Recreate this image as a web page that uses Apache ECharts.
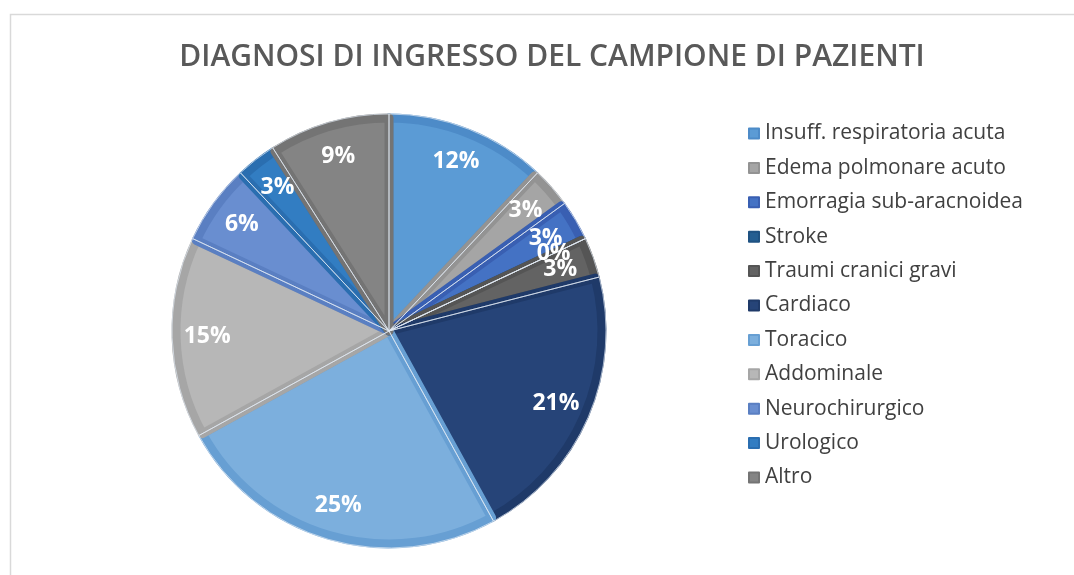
<!DOCTYPE html>
<html>
<head>
<meta charset="utf-8">
<title>Diagnosi di ingresso</title>
<script src="https://cdn.jsdelivr.net/npm/echarts@6/dist/echarts.min.js"></script>
<style>
  html, body { margin: 0; padding: 0; background: #fff; }
  #chart { width: 1074px; height: 575px; }
</style>
</head>
<body>
<div id="chart"></div>
<script>
const categories = [
  'Insuff. respiratoria acuta', 'Edema polmonare acuto', 'Emorragia sub-aracnoidea',
  'Stroke', 'Traumi cranici gravi', 'Cardiaco', 'Toracico', 'Addominale',
  'Neurochirurgico', 'Urologico', 'Altro'
]
const percentValues = [12, 3, 3, 0, 3, 21, 25, 15, 6, 3, 9]

// excel-ish theme fills + slightly darker inner band
const fills = ['#5b9bd5', '#a5a5a5', '#4472c4', '#255e91', '#636363', '#264478',
  '#7cafdd', '#b7b7b7', '#698ed0', '#327dc2', '#848484']
const bands = ['#4d8bc8', '#939393', '#395fb2', '#1f5282', '#555555', '#1f3a69',
  '#679fd3', '#a6a6a6', '#5a7fc2', '#2a6eb0', '#747474']

const center = [389, 331]
const R = 213

const chart = echarts.init(document.getElementById('chart'))

const option = {
  backgroundColor: '#fff',
  animation: false,
  title: {
    text: 'DIAGNOSI DI INGRESSO DEL CAMPIONE DI PAZIENTI',
    left: 547, top: 37, textAlign: 'center',
    textStyle: { fontFamily: 'Open Sans', fontSize: 30, fontWeight: 600, color: '#595959' }
  },
  graphic: [{
    type: 'rect', silent: true,
    shape: { x: 10.5, y: 14.5, width: 1200, height: 700 },
    style: { fill: 'none', stroke: '#d9d9d9', lineWidth: 1.5 }
  }],
  legend: {
    orient: 'vertical', left: 743, top: 118,
    itemWidth: 10, itemHeight: 10, itemGap: 13.4,
    icon: 'rect',
    data: categories,
    textStyle: { fontFamily: 'Open Sans', fontSize: 21, lineHeight: 20, color: '#404040', padding: [0, 0, 0, 1] }
  },
  series: [
    {
      type: 'pie', center, radius: [0, R],
      startAngle: 90, clockwise: true,
      silent: true,
      label: { show: false }, labelLine: { show: false },
      data: categories.map((name, i) => ({
        name, value: percentValues[i],
        itemStyle: { color: fills[i], borderColor: bands[i], borderWidth: 9 }
      }))
    },
    {
      // thin light separators
      type: 'pie', center, radius: [0, R + 4],
      startAngle: 90, clockwise: true,
      silent: true, legendHoverLink: false,
      label: { show: false }, labelLine: { show: false },
      itemStyle: { color: 'rgba(0,0,0,0)', borderColor: 'rgba(225,234,244,0.7)', borderWidth: 1 },
      data: categories.map((name, i) => ({ name: name + ' ', value: percentValues[i] }))
    },
    {
      // labels ring (zero slice kept as a hairline so its label still shows)
      type: 'pie', center, radius: [R * 0.68, R],
      startAngle: 90, clockwise: true,
      silent: true,
      avoidLabelOverlap: false,
      minShowLabelAngle: 0,
      labelLayout: { hideOverlap: false },
      itemStyle: { color: 'rgba(0,0,0,0)', borderWidth: 0 },
      label: {
        show: true, position: 'inside',
        formatter: p => percentValues[p.dataIndex] + '%',
        fontFamily: 'Open Sans', fontSize: 23, fontWeight: 'bold', color: '#fff'
      },
      labelLine: { show: false },
      data: categories.map((name, i) => ({ name: name + '  ', value: percentValues[i] || 0.001 }))
    }
  ]
}

chart.setOption(option)
</script>
</body>
</html>
